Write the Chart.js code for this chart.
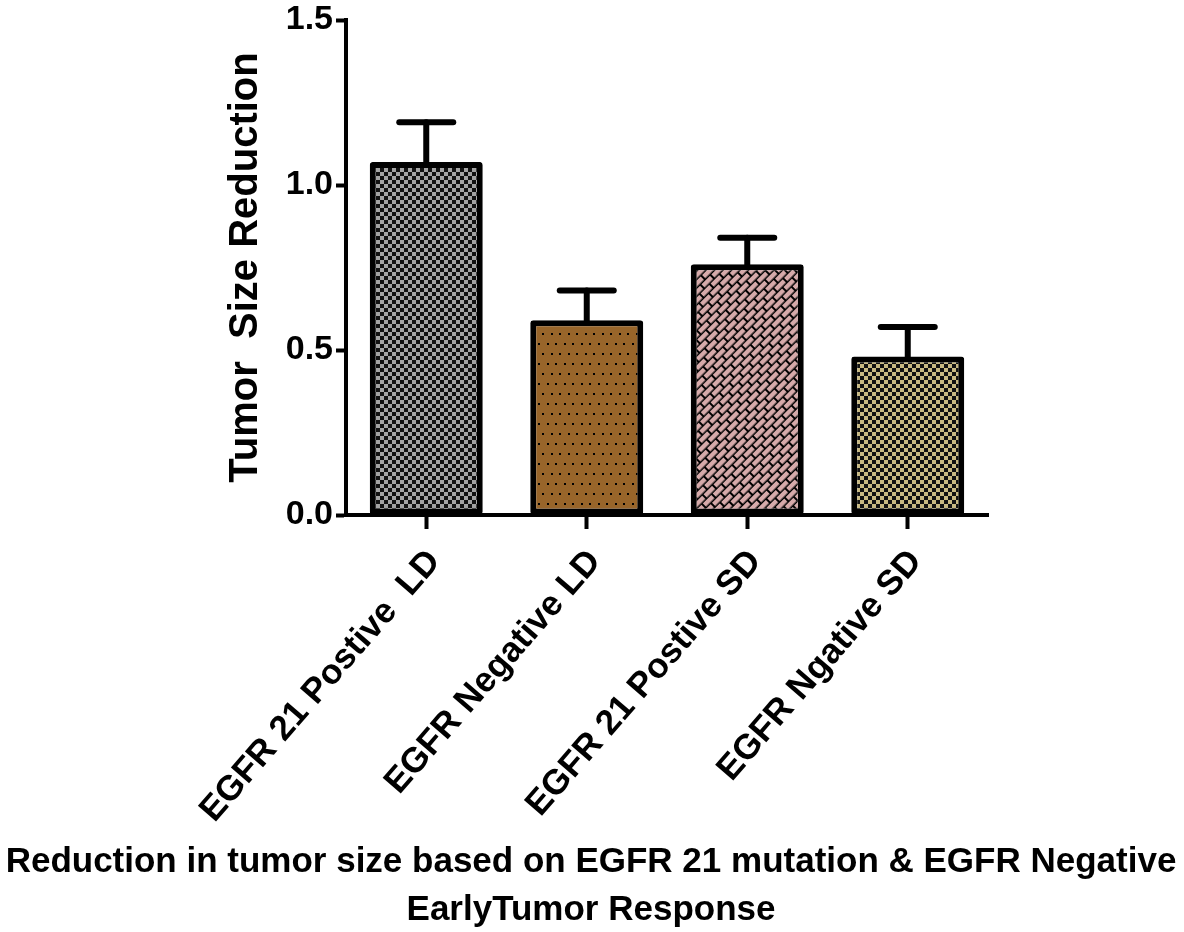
<!DOCTYPE html>
<html>
<head>
<meta charset="utf-8">
<script src="https://cdn.jsdelivr.net/npm/chart.js@4.4.1/dist/chart.umd.min.js"></script>
<style>
  html, body { margin: 0; padding: 0; background: #ffffff; }
  #wrap { width: 1184px; height: 932px; position: relative; }
</style>
</head>
<body>
<div id="wrap"><canvas id="c" width="1184" height="932"></canvas></div>
<script>
// ---- data ----
const categories = ["EGFR 21 Postive  LD", "EGFR Negative LD", "EGFR 21 Postive SD", "EGFR Ngative SD"];
const meanValues = [1.07, 0.59, 0.76, 0.48];
const semValues = [0.12, 0.09, 0.08, 0.09];
const yTickValues = [0.0, 0.5, 1.0, 1.5];
const yAxisTitle = "Tumor  Size Reduction";
const bottomTitleLines = ["Reduction in tumor size based on EGFR 21 mutation & EGFR Negative", "EarlyTumor Response"];

// ---- patterns ----
function mkCanvas(w, h) { const c = document.createElement('canvas'); c.width = w; c.height = h; return c; }
function checker(color, dark, cell) {
  const c = mkCanvas(cell * 2, cell * 2), x = c.getContext('2d');
  x.fillStyle = dark; x.fillRect(0, 0, cell * 2, cell * 2);
  x.fillStyle = color; x.fillRect(0, 0, cell, cell); x.fillRect(cell, cell, cell, cell);
  return x.createPattern(c, 'repeat');
}
function dots(bg) {
  const c = mkCanvas(17, 20), x = c.getContext('2d');
  x.fillStyle = bg; x.fillRect(0, 0, 17, 20);
  x.fillStyle = '#000';
  [[3,3],[11,3],[7,13],[15,13]].forEach(p => x.fillRect(p[0], p[1], 2, 2));
  return x.createPattern(c, 'repeat');
}
function bricks(bg) {
  const W = 14, H = 12;
  const c = mkCanvas(W, H), x = c.getContext('2d');
  x.fillStyle = '#000'; x.fillRect(0, 0, W, H);
  x.fillStyle = bg;
  x.fillRect(1, 1, 12, 4.5);
  x.fillRect(8, 7, 12, 4.5); x.fillRect(-6, 7, 12, 4.5);
  const p = x.createPattern(c, 'repeat');
  p.setTransform(new DOMMatrix().rotate(-45));
  return p;
}
const fills = [checker('#a3a3a3', '#111', 4), dots('#98652a'), bricks('#d6aaaa'), checker('#c8b982', '#111', 4)];

// ---- error bars plugin ----
const errorBars = {
  id: 'errorBars',
  afterDatasetsDraw(chart) {
    const ctx = chart.ctx, y = chart.scales.y;
    const meta = chart.getDatasetMeta(0);
    ctx.save();
    ctx.strokeStyle = '#000';
    ctx.lineWidth = 6;
    ctx.lineCap = 'round';
    meta.data.forEach((bar, i) => {
      const top = y.getPixelForValue(meanValues[i] + semValues[i]);
      const base = y.getPixelForValue(meanValues[i]);
      ctx.beginPath();
      ctx.moveTo(bar.x, base + 2);
      ctx.lineTo(bar.x, top);
      ctx.stroke();
      ctx.beginPath();
      ctx.moveTo(bar.x - 27, top);
      ctx.lineTo(bar.x + 27, top);
      ctx.stroke();
    });
    ctx.restore();
  }
};

// ---- bottom title plugin ----
const bottomTitle = {
  id: 'bottomTitle',
  afterDraw(chart) {
    const ctx = chart.ctx;
    ctx.save();
    ctx.fillStyle = '#000';
    ctx.font = 'bold 35px "Liberation Sans", Arial, sans-serif';
    ctx.textAlign = 'center';
    ctx.textBaseline = 'middle';
    ctx.fillText(bottomTitleLines[0], 591, 862);
    ctx.fillText(bottomTitleLines[1], 591, 910);
    ctx.restore();
  }
};

new Chart(document.getElementById('c'), {
  type: 'bar',
  data: {
    labels: categories,
    datasets: [{
      data: meanValues,
      backgroundColor: fills,
      borderColor: '#000',
      borderWidth: 6,
      borderSkipped: false,
      borderRadius: 3,
      categoryPercentage: 1.0,
      barPercentage: 0.704
    }]
  },
  options: {
    responsive: false,
    animation: false,
    devicePixelRatio: 1,
    layout: { padding: { top: 18, right: 196, left: 0, bottom: 0 } },
    plugins: { legend: { display: false }, tooltip: { enabled: false }, title: { display: false } },
    scales: {
      x: {
        offset: true,
        grid: { display: true, offset: false, drawOnChartArea: false, drawTicks: true, tickLength: 14, tickWidth: 4, tickColor: '#000', color: '#000' },
        border: { display: true, color: '#000', width: 4 },
        ticks: {
          autoSkip: false, minRotation: 49, maxRotation: 49, padding: 14, labelOffset: 8, color: '#000',
          font: { family: '"Liberation Sans", Arial, sans-serif', size: 35, weight: 'bold', lineHeight: 1.1 }
        },
        afterFit(scale) { scale.height = 417; }
      },
      y: {
        min: 0, max: 1.5,
        afterBuildTicks(scale) { scale.ticks = yTickValues.map(v => ({ value: v })); },
        grid: { display: true, drawOnChartArea: false, drawTicks: true, tickLength: 10, tickWidth: 4, tickColor: '#000', color: '#000' },
        border: { display: true, color: '#000', width: 4 },
        ticks: {
          padding: 3, color: '#000',
          callback: v => Number(v).toFixed(1),
          font: { family: '"Liberation Sans", Arial, sans-serif', size: 34, weight: 'bold', lineHeight: 1 }
        },
        title: {
          display: true, text: yAxisTitle, color: '#000',
          font: { family: '"Liberation Sans", Arial, sans-serif', size: 40, weight: 'bold', lineHeight: 1.2 },
          padding: { top: 222, bottom: 0 }
        },
        afterFit(scale) { scale.width = 346; }
      }
    }
  },
  plugins: [errorBars, bottomTitle]
});
</script>
</body>
</html>
